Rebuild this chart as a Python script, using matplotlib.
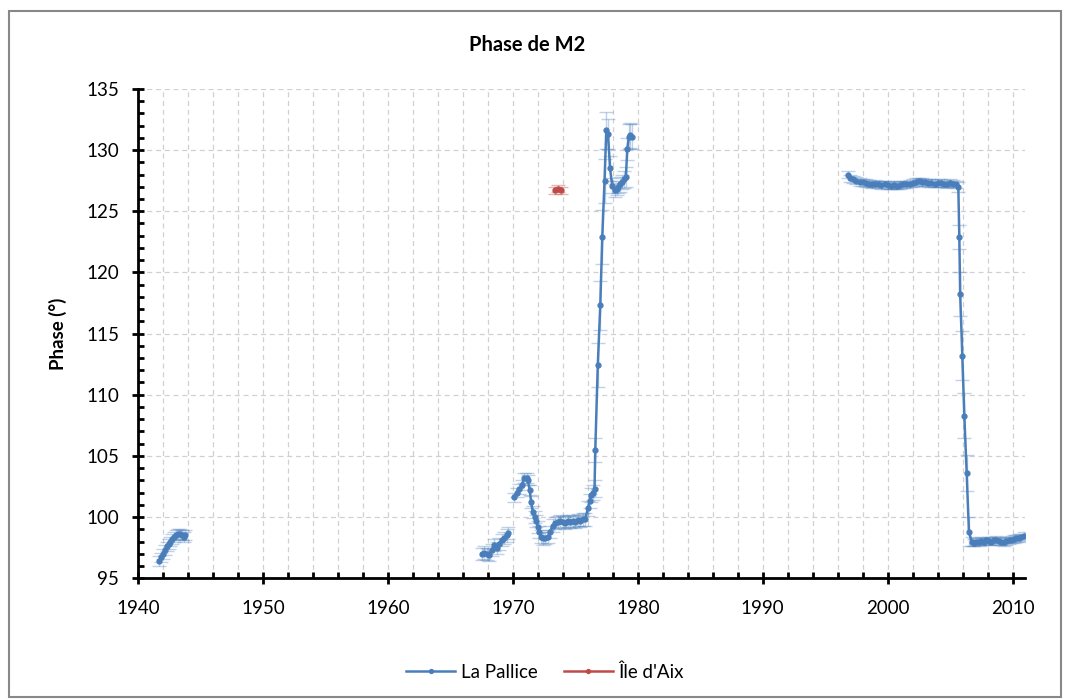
import matplotlib.pyplot as plt
import matplotlib as mpl
from matplotlib.ticker import MultipleLocator
from matplotlib.patches import Rectangle

plt.rcParams['font.family'] = ['Lato', 'DejaVu Sans']

# La Pallice, segment 1 (1940s)
yr_a = [1941.7, 1941.85, 1942.0, 1942.15, 1942.3, 1942.45, 1942.6, 1942.75,
        1942.9, 1943.05, 1943.2, 1943.35, 1943.5, 1943.65, 1943.8]
ph_a = [96.4, 96.7, 97.0, 97.3, 97.6, 97.8, 98.0, 98.2,
        98.4, 98.5, 98.6, 98.6, 98.5, 98.4, 98.5]
er_a = [0.4, 0.4, 0.4, 0.4, 0.4, 0.4, 0.4, 0.4,
        0.4, 0.4, 0.4, 0.4, 0.4, 0.4, 0.4]

# segment 2 (late 1960s)
yr_b = [1967.5, 1967.7, 1967.9, 1968.1, 1968.3, 1968.5, 1968.7, 1968.9,
        1969.1, 1969.3, 1969.5, 1969.6]
ph_b = [97.0, 97.1, 97.0, 96.9, 97.3, 97.7, 97.5, 97.8,
        98.1, 98.3, 98.5, 98.7]
er_b = [0.5, 0.5, 0.5, 0.5, 0.5, 0.5, 0.5, 0.5,
        0.5, 0.5, 0.5, 0.5]

# segment 3 (1970s)
yr_c = [1970.13, 1970.3, 1970.53, 1970.7, 1970.93, 1971.1, 1971.2, 1971.35,
        1971.47, 1971.6, 1971.75, 1971.87, 1972.0, 1972.13, 1972.27, 1972.4,
        1972.6, 1972.8, 1973.0, 1973.2, 1973.4, 1973.6, 1973.8, 1974.0,
        1974.2, 1974.4, 1974.6, 1974.8, 1975.0, 1975.2, 1975.4, 1975.6,
        1975.8, 1976.0, 1976.15, 1976.27, 1976.4, 1976.54, 1976.6, 1976.8,
        1977.0, 1977.16, 1977.34, 1977.48, 1977.62, 1977.78, 1977.96, 1978.14,
        1978.3, 1978.45, 1978.6, 1978.75, 1978.9, 1979.05, 1979.16, 1979.29,
        1979.4, 1979.5]
ph_c = [101.6, 102.0, 102.3, 102.6, 103.2, 103.2, 103.0, 102.2,
        101.2, 100.4, 100.0, 99.7, 99.2, 98.8, 98.4, 98.25,
        98.3, 98.4, 98.8, 99.3, 99.5, 99.6, 99.7, 99.6,
        99.5, 99.7, 99.6, 99.7, 99.6, 99.75, 99.7, 99.8,
        99.8, 100.7, 101.3, 101.8, 102.0, 102.3, 105.5, 112.4,
        117.3, 122.9, 127.5, 131.6, 131.3, 128.5, 127.1, 126.7,
        126.8, 127.0, 127.2, 127.4, 127.6, 127.8, 130.1, 131.1,
        131.2, 131.1]
er_c = [0.4, 0.4, 0.4, 0.4, 0.4, 0.4, 0.4, 0.4,
        0.5, 0.5, 0.5, 0.5, 0.5, 0.5, 0.5, 0.5,
        0.5, 0.5, 0.5, 0.5, 0.5, 0.5, 0.5, 0.5,
        0.5, 0.5, 0.5, 0.5, 0.5, 0.5, 0.5, 0.5,
        0.5, 0.6, 0.6, 0.6, 0.6, 0.7, 1.0, 1.8,
        2.0, 2.2, 1.8, 1.5, 1.2, 1.0, 0.6, 0.5,
        0.5, 0.5, 0.6, 0.6, 0.7, 0.8, 0.9, 1.0,
        1.0, 1.0]

# segment 4 (1997-2011)
yr_d = [1996.85, 1997.0, 1997.25, 1997.5, 1997.75, 1998.0, 1998.25, 1998.5,
        1998.75, 1999.0, 1999.25, 1999.5, 1999.75, 2000.0, 2000.25, 2000.5,
        2000.75, 2001.0, 2001.25, 2001.5, 2001.75, 2002.0, 2002.25, 2002.5,
        2002.75, 2003.0, 2003.25, 2003.5, 2003.75, 2004.0, 2004.25, 2004.5,
        2004.75, 2005.0, 2005.25, 2005.5, 2005.65, 2005.73, 2005.8, 2005.97,
        2006.13, 2006.32, 2006.5, 2006.72, 2006.9, 2007.1, 2007.3, 2007.5,
        2007.7, 2007.9, 2008.1, 2008.3, 2008.5, 2008.7, 2008.9, 2009.1,
        2009.3, 2009.5, 2009.7, 2009.9, 2010.1, 2010.3, 2010.5, 2010.7,
        2010.9]
ph_d = [128.0, 127.7, 127.6, 127.5, 127.4, 127.35, 127.3, 127.25,
        127.2, 127.25, 127.2, 127.15, 127.2, 127.15, 127.1, 127.15,
        127.1, 127.15, 127.2, 127.2, 127.25, 127.3, 127.4, 127.45,
        127.4, 127.35, 127.3, 127.3, 127.25, 127.3, 127.3, 127.25,
        127.2, 127.3, 127.25, 127.2, 127.0, 122.9, 118.2, 113.2,
        108.3, 103.6, 98.8, 98.0, 97.9, 98.0, 97.95, 98.05,
        98.0, 98.1, 98.05, 98.0, 98.1, 98.15, 98.05, 98.0,
        97.95, 98.05, 98.1, 98.15, 98.2, 98.25, 98.3, 98.35,
        98.45]
er_d = [0.3, 0.3, 0.3, 0.3, 0.3, 0.3, 0.3, 0.3,
        0.3, 0.3, 0.3, 0.3, 0.3, 0.3, 0.3, 0.3,
        0.3, 0.3, 0.3, 0.3, 0.3, 0.3, 0.3, 0.3,
        0.3, 0.3, 0.3, 0.3, 0.3, 0.3, 0.3, 0.3,
        0.3, 0.3, 0.3, 0.3, 0.4, 1.0, 1.8, 2.0,
        1.8, 1.5, 1.2, 0.4, 0.3, 0.3, 0.3, 0.3,
        0.3, 0.3, 0.3, 0.3, 0.3, 0.3, 0.3, 0.3,
        0.3, 0.3, 0.3, 0.3, 0.3, 0.3, 0.3, 0.3,
        0.3]

# Ile d'Aix
yr_aix = [1973.35, 1973.6, 1973.85]
ph_aix = [126.7, 126.85, 126.7]
er_aix = [0.3, 0.3, 0.3]

blue = '#4A7EBB'
red = '#BE4B48'

fig = plt.figure(figsize=(10.69, 7.0), dpi=100)
ax = fig.add_axes([0.129, 0.174, 0.830, 0.699])

segments = [(yr_a, ph_a, er_a), (yr_b, ph_b, er_b), (yr_c, ph_c, er_c), (yr_d, ph_d, er_d)]
for i, (x, y, e) in enumerate(segments):
    ax.errorbar(x, y, yerr=e, fmt='none', ecolor=blue, alpha=0.35,
                elinewidth=1, capsize=5, capthick=1, zorder=2)
    ax.plot(x, y, '-o', color=blue, lw=1.8, ms=3.5,
            label='La Pallice' if i == 0 else None, zorder=3)

ax.errorbar(yr_aix, ph_aix, yerr=er_aix, fmt='none', ecolor=red, alpha=0.4,
            elinewidth=1, capsize=5, capthick=1, zorder=2)
ax.plot(yr_aix, ph_aix, '-o', color=red, lw=1.8, ms=3.5, label="Île d'Aix", zorder=3)

ax.set_xlim(1940, 2011)
ax.set_ylim(95, 135)
ax.xaxis.set_major_locator(MultipleLocator(10))
ax.xaxis.set_minor_locator(MultipleLocator(2))
ax.yaxis.set_major_locator(MultipleLocator(5))
ax.yaxis.set_minor_locator(MultipleLocator(1))

ax.grid(which='both', axis='x', color='#d0d0d0', ls=(0, (4, 3)), lw=0.9)
ax.grid(which='major', axis='y', color='#d0d0d0', ls=(0, (4, 3)), lw=0.9)
ax.set_axisbelow(True)

for s in ['top', 'right']:
    ax.spines[s].set_visible(False)
for s in ['left', 'bottom']:
    ax.spines[s].set_linewidth(2)
    ax.spines[s].set_color('black')

ax.tick_params(which='major', direction='inout', length=9, width=2, labelsize=13.5)
ax.tick_params(axis='y', which='major', pad=9)
ax.tick_params(axis='x', which='major', pad=11)
ax.tick_params(which='minor', direction='in', length=4, width=2)

fig.text(527 / 1069, 1 - 45 / 700, 'Phase de M2', fontsize=14.5, fontweight='bold',
         ha='center', va='center')
ax.set_ylabel('Phase (°)', fontsize=13.5, fontweight='bold', labelpad=14)

fig.legend(loc='center', bbox_to_anchor=(545 / 1069, 1 - 672 / 700), ncol=2, frameon=False,
           fontsize=13.5, handlelength=2.6, handletextpad=0.3, columnspacing=1.4,
           markerscale=0.8)

fig.patches.append(Rectangle((9 / 1069, 3 / 700), 1052 / 1069, 686 / 700,
                             transform=fig.transFigure, fill=False,
                             edgecolor='#888888', lw=1.5))

fig.savefig('out.png', dpi=100)
